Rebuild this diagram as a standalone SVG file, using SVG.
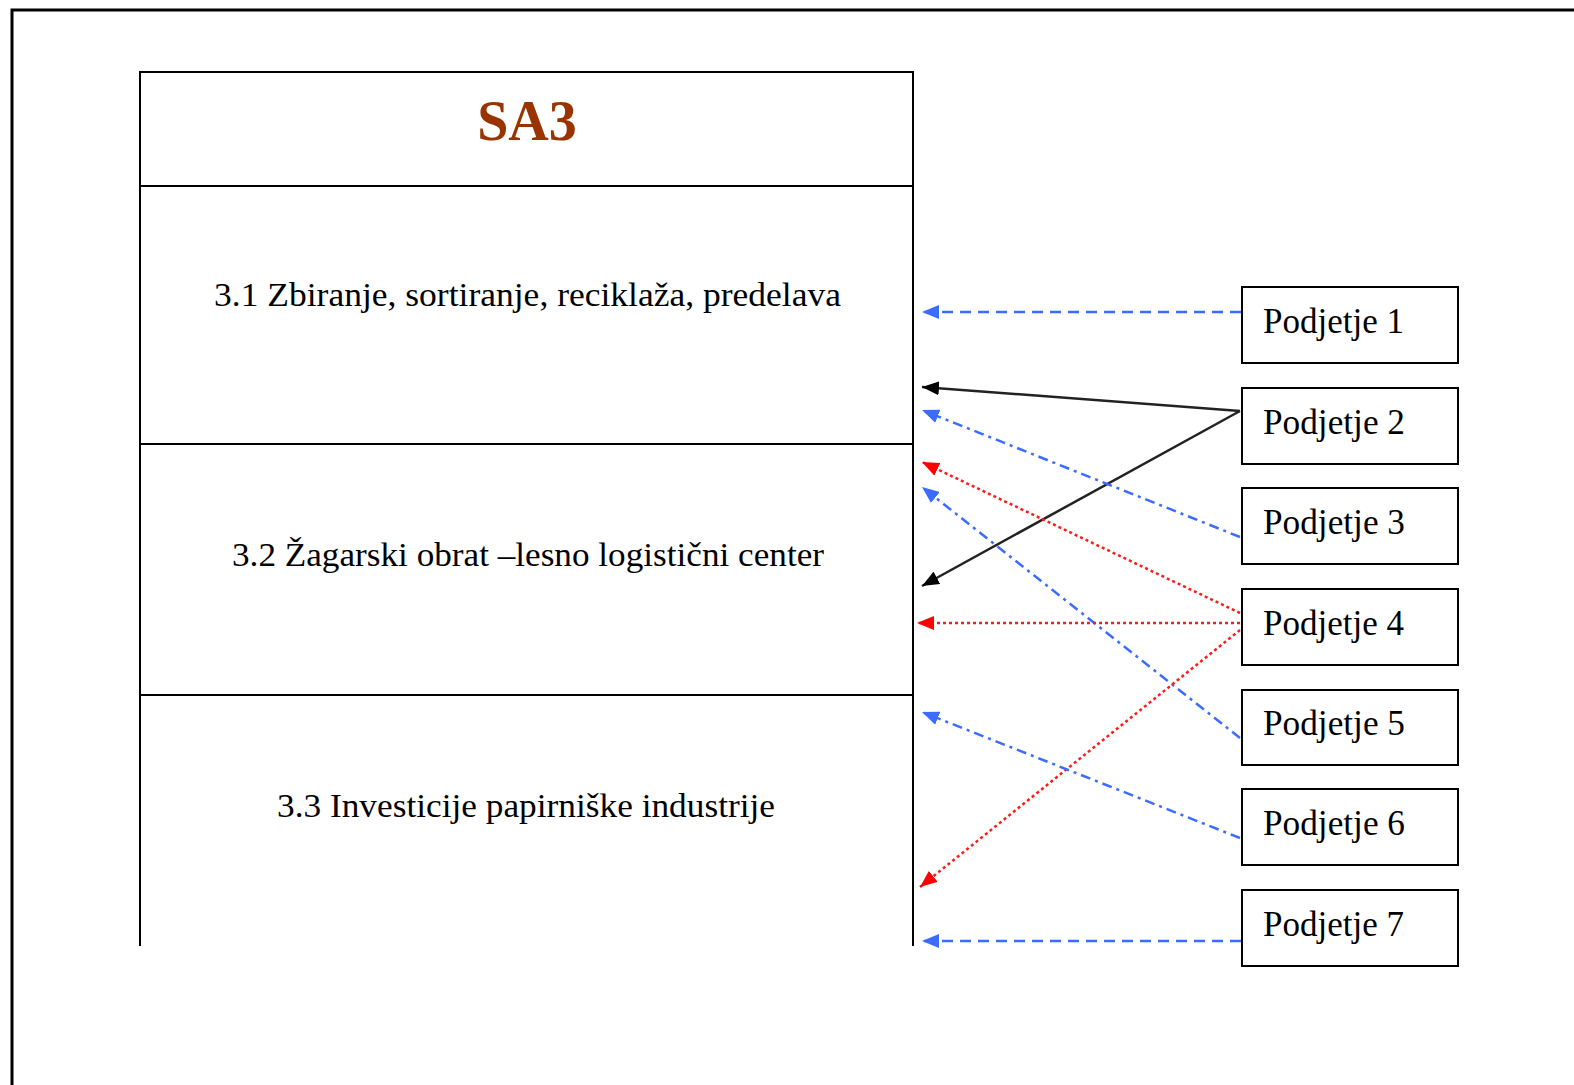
<svg xmlns="http://www.w3.org/2000/svg" width="1574" height="1085" viewBox="0 0 1574 1085">
<defs>
<style>
.box{fill:#fff;stroke:#000;stroke-width:2}
.ln{stroke:#000;stroke-width:2;fill:none}
.sec{font-family:"Liberation Serif","Times New Roman",serif;font-size:34px;fill:#000}
.pt{font-family:"Liberation Serif","Times New Roman",serif;font-size:35px;fill:#000}
.blue{stroke:#3b6cff;stroke-width:2.5;fill:none}
.dash{stroke-dasharray:11 7}
.dd{stroke-dasharray:10 5 3 5}
.red{stroke:#ff1a1a;stroke-width:2.5;fill:none;stroke-dasharray:3 3}
.blk{stroke:#222;stroke-width:2.5;fill:none}
</style>
<marker id="ab" markerUnits="userSpaceOnUse" markerWidth="18" markerHeight="14" refX="17" refY="7" orient="auto" viewBox="0 0 18 14"><path d="M0 0 L17 7 L0 14 Z" fill="#3b6cff"/></marker>
<marker id="ar" markerUnits="userSpaceOnUse" markerWidth="18" markerHeight="14" refX="17" refY="7" orient="auto" viewBox="0 0 18 14"><path d="M0 0 L17 7 L0 14 Z" fill="#ff0000"/></marker>
<marker id="ak" markerUnits="userSpaceOnUse" markerWidth="18" markerHeight="14" refX="17" refY="7" orient="auto" viewBox="0 0 18 14"><path d="M0 0 L17 7 L0 14 Z" fill="#000"/></marker>
</defs>
<rect width="1574" height="1085" fill="#fff"/>
<path d="M12 1085 V10 H1574" fill="none" stroke="#000" stroke-width="3"/>

<g id="sa3">
<path class="ln" d="M140 946 V72 H913 V946"/>
<line class="ln" x1="140" y1="186" x2="913" y2="186"/>
<text x="527" y="140" text-anchor="middle" font-family="Liberation Serif,'Times New Roman',serif" font-weight="bold" font-size="56" fill="#993300">SA3</text>
</g>
<g id="sec31">
<text class="sec" x="214" y="306" textLength="627" lengthAdjust="spacingAndGlyphs">3.1 Zbiranje, sortiranje, reciklaža, predelava</text>
</g>
<g id="sec32">
<line class="ln" x1="140" y1="444" x2="913" y2="444"/>
<text class="sec" x="232" y="566" textLength="592" lengthAdjust="spacingAndGlyphs">3.2 Žagarski obrat –lesno logistični center</text>
</g>
<g id="sec33">
<line class="ln" x1="140" y1="695" x2="913" y2="695"/>
<text class="sec" x="277" y="817" textLength="498" lengthAdjust="spacingAndGlyphs">3.3 Investicije papirniške industrije</text>
</g>

<g id="p1"><rect class="box" x="1242" y="287" width="216" height="76"/><text class="pt" x="1263" y="333" textLength="141" lengthAdjust="spacingAndGlyphs">Podjetje 1</text></g>
<g id="p2"><rect class="box" x="1242" y="388" width="216" height="76"/><text class="pt" x="1263" y="434" textLength="142" lengthAdjust="spacingAndGlyphs">Podjetje 2</text></g>
<g id="p3"><rect class="box" x="1242" y="488" width="216" height="76"/><text class="pt" x="1263" y="534" textLength="142" lengthAdjust="spacingAndGlyphs">Podjetje 3</text></g>
<g id="p4"><rect class="box" x="1242" y="589" width="216" height="76"/><text class="pt" x="1263" y="635" textLength="141" lengthAdjust="spacingAndGlyphs">Podjetje 4</text></g>
<g id="p5"><rect class="box" x="1242" y="690" width="216" height="75"/><text class="pt" x="1263" y="735" textLength="142" lengthAdjust="spacingAndGlyphs">Podjetje 5</text></g>
<g id="p6"><rect class="box" x="1242" y="789" width="216" height="76"/><text class="pt" x="1263" y="835" textLength="142" lengthAdjust="spacingAndGlyphs">Podjetje 6</text></g>
<g id="p7"><rect class="box" x="1242" y="890" width="216" height="76"/><text class="pt" x="1263" y="936" textLength="141" lengthAdjust="spacingAndGlyphs">Podjetje 7</text></g>

<g id="connectors">
<line class="blue dash" x1="1241" y1="312" x2="922" y2="312" marker-end="url(#ab)"/>
<line class="blk" x1="1240" y1="411" x2="922" y2="387" marker-end="url(#ak)"/>
<line class="blk" x1="1240" y1="411" x2="922" y2="586" marker-end="url(#ak)"/>
<line class="blue dd" x1="1240" y1="537" x2="922" y2="410" marker-end="url(#ab)"/>
<line class="red" x1="1240" y1="613" x2="922" y2="462" marker-end="url(#ar)"/>
<line class="blue dd" x1="1240" y1="738" x2="922" y2="487" marker-end="url(#ab)"/>
<line class="red" x1="1240" y1="623" x2="917" y2="623" marker-end="url(#ar)"/>
<line class="red" x1="1240" y1="630" x2="920" y2="887" marker-end="url(#ar)"/>
<line class="blue dd" x1="1240" y1="838" x2="922" y2="712" marker-end="url(#ab)"/>
<line class="blue dash" x1="1241" y1="941" x2="922" y2="941" marker-end="url(#ab)"/>
</g>
</svg>
